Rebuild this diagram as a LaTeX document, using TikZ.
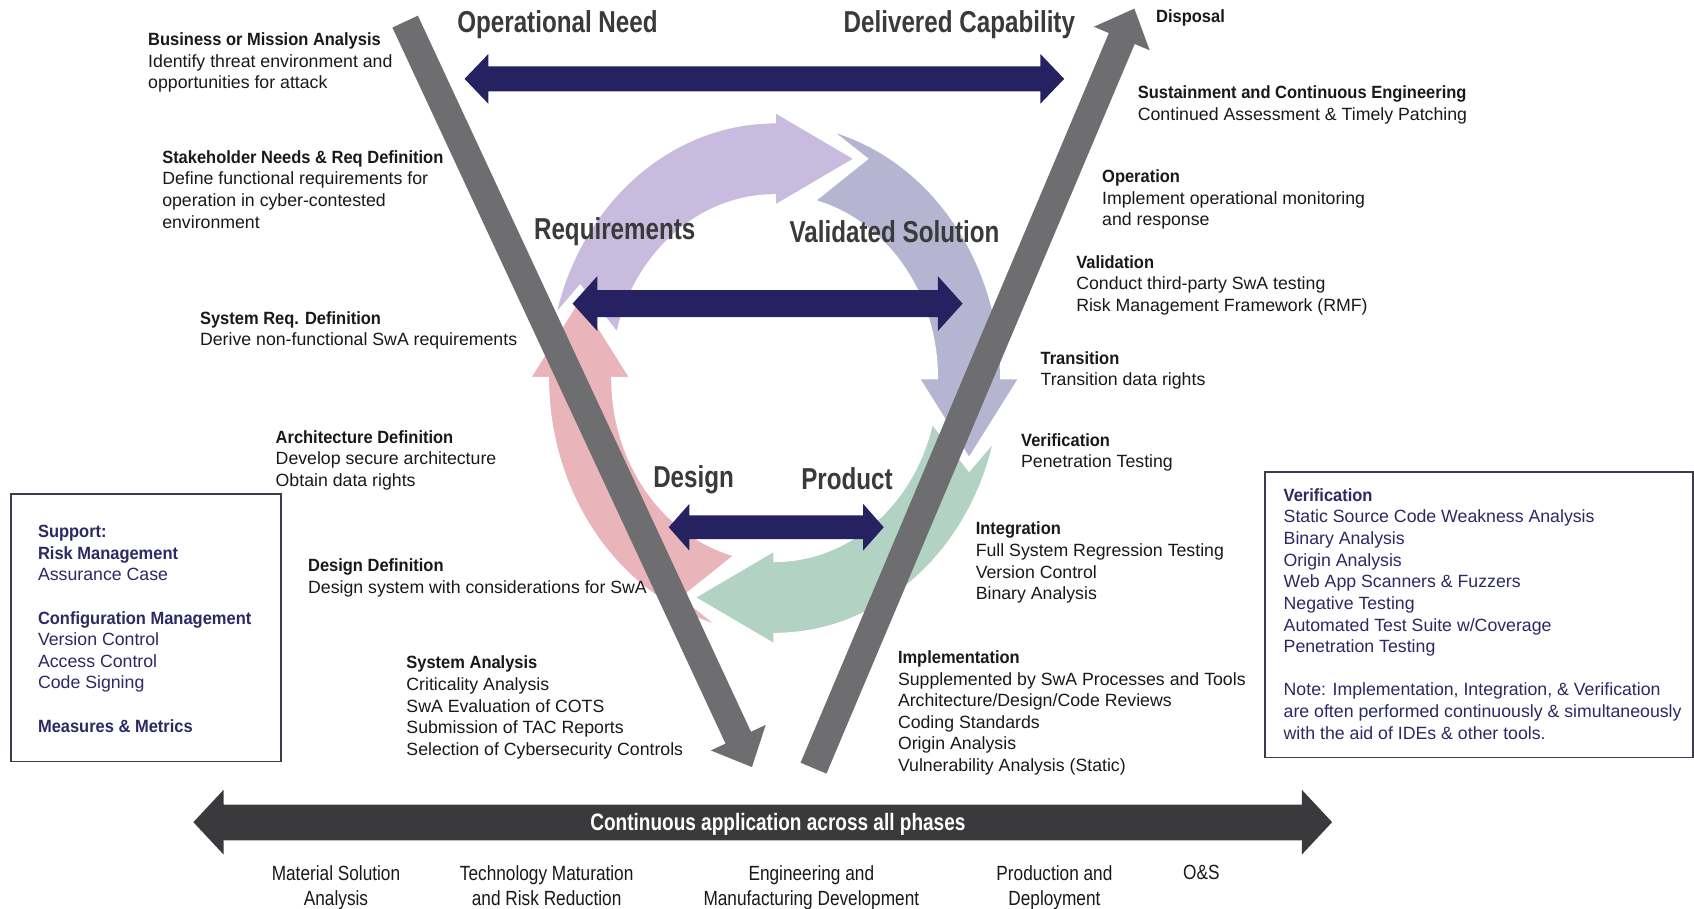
\documentclass[tikz,border=0pt]{standalone}
\usepackage{fontspec}
\setmainfont{Liberation Sans}[BoldFeatures={FakeStretch=0.93}]
\newfontfamily\condf{Liberation Sans}[FakeStretch=0.84]
\newfontfamily\condb{Liberation Sans}[FakeStretch=0.8]
\usetikzlibrary{calc}
\definecolor{navyA}{RGB}{38,34,98}
\definecolor{vgrey}{RGB}{110,110,113}
\definecolor{darkbar}{RGB}{58,58,61}
\definecolor{titlegrey}{RGB}{58,58,58}
\definecolor{purpleC}{RGB}{201,187,221}
\definecolor{lavC}{RGB}{181,181,210}
\definecolor{greenC}{RGB}{178,211,196}
\definecolor{pinkC}{RGB}{233,180,186}
\definecolor{boxtext}{RGB}{44,41,100}
\definecolor{boxline}{RGB}{60,60,75}
\definecolor{bodytext}{RGB}{25,25,25}
\newcommand{\mydblarrow}[6]{%
  \fill[#1] (#2) -- ($(#2)+(#6,-#5)$) -- ($(#2)+(#6,-#4)$) -- ($(#3)+(-#6,-#4)$) -- ($(#3)+(-#6,-#5)$) -- (#3) -- ($(#3)+(-#6,#5)$) -- ($(#3)+(-#6,#4)$) -- ($(#2)+(#6,#4)$) -- ($(#2)+(#6,#5)$) -- cycle;}
\tikzset{
  txt/.style={font=\fontsize{16.4}{20}\selectfont, align=left, inner sep=0pt, text=bodytext, anchor=north west},
  boxtxt/.style={txt, text=boxtext},
  biglabel/.style={font=\condb\bfseries\fontsize{28}{30}\selectfont, text=titlegrey, inner sep=0pt, anchor=base},
  phase/.style={font=\condf\fontsize{19}{23}\selectfont, align=center, inner sep=0pt, anchor=north, text=bodytext},
  ringarrow/.style={draw=white, line width=2.5pt, line join=miter},
  panel/.style={draw=boxline, line width=1.5pt},
}
\begin{document}
\begin{tikzpicture}[x=1pt,y=-1pt]
\useasboundingbox (0,0) rectangle (1568,841);
\fill[white] (0,0) rectangle (1568,841);

% ---- cycle ring
\begin{scope}[shift={(717,350)}]
  \filldraw[ringarrow, fill=purpleC] (194:210 and 237) arc[start angle=194, end angle=270, x radius=210, y radius=237]
     -- (0,-247) -- (75,-203) -- (0,-159) -- (0,-169)
     arc[start angle=270, end angle=194, x radius=150, y radius=169] -- (-180,-85) -- cycle;
  \filldraw[ringarrow, fill=lavC] (284:210 and 237) arc[start angle=284, end angle=360, x radius=210, y radius=237]
     -- (227,0) -- (180,75) -- (133,0) -- (150,0)
     arc[start angle=360, end angle=284, x radius=150, y radius=169] -- (85,-203) -- cycle;
  \filldraw[ringarrow, fill=greenC] (14:210 and 237) arc[start angle=14, end angle=90, x radius=210, y radius=237]
     -- (0,247) -- (-75,203) -- (0,159) -- (0,169)
     arc[start angle=90, end angle=14, x radius=150, y radius=169] -- (180,85) -- cycle;
  \filldraw[ringarrow, fill=pinkC] (104:210 and 237) arc[start angle=104, end angle=180, x radius=210, y radius=237]
     -- (-227,0) -- (-180,-75) -- (-133,0) -- (-150,0)
     arc[start angle=180, end angle=104, x radius=150, y radius=169] -- (-85,203) -- cycle;
\end{scope}

% ---- V arrows
\fill[vgrey] (386.79,14.52) -- (695.14,677.32) -- (708.74,670.99) -- (696,710) -- (657.96,694.61) -- (671.56,688.28) -- (363.21,25.48) -- cycle;
\fill[vgrey] (764.98,716.06) -- (1050.30,40.69) -- (1064.12,46.53) -- (1050,8) -- (1012.54,24.73) -- (1026.35,30.57) -- (741.03,705.94) -- cycle;

% ---- navy double arrows
\coordinate (topL) at (430,73);  \coordinate (topR) at (985,73);
\coordinate (midL) at (530,281); \coordinate (midR) at (891,281);
\coordinate (lowL) at (619,488); \coordinate (lowR) at (818,488);
\coordinate (barL) at (179,761); \coordinate (barR) at (1233,761);
\mydblarrow{navyA}{topL}{topR}{11.5}{23}{22}
\mydblarrow{navyA}{midL}{midR}{12.5}{25.5}{23}
\mydblarrow{navyA}{lowL}{lowR}{11}{21.5}{19}
\mydblarrow{darkbar}{barL}{barR}{16.5}{30}{28}
\draw[gray!55, line width=0.8pt] ($(barL)+(28,-16.5)$) -- ($(barR)+(-28,-16.5)$);
\draw[gray!55, line width=0.8pt] ($(barL)+(28,16.5)$) -- ($(barR)+(-28,16.5)$);

% ---- big labels
\node[biglabel] (opneed) at (516,30) {Operational Need};
\node[biglabel] (delcap) at (888,30) {Delivered Capability};
\node[biglabel] (req) at (569,222) {Requirements};
\node[biglabel] (valsol) at (828,224) {Validated Solution};
\node[biglabel] (design) at (642,451) {Design};
\node[biglabel] (product) at (784,453) {Product};
\node[font=\condb\bfseries\fontsize{22}{24}\selectfont, text=white, inner sep=0pt, anchor=base] (cont) at (720,769) {Continuous application across all phases};

% ---- left side texts
\node[txt] (bma) at (137,30) {\textbf{Business or Mission Analysis}\\Identify threat environment and\\opportunities for attack};
\node[txt] (snr) at (150,139) {\textbf{Stakeholder Needs \& Req Definition}\\Define functional requirements for\\operation in cyber-contested\\environment};
\node[txt] (srd) at (185,288) {\textbf{System Req. Definition}\\Derive non-functional SwA requirements};
\node[txt] (ard) at (255,398) {\textbf{Architecture Definition}\\Develop secure architecture\\Obtain data rights};
\node[txt] (dd) at (285,517) {\textbf{Design Definition}\\Design system with considerations for SwA};
\node[txt] (sa) at (376,607) {\textbf{System Analysis}\\Criticality Analysis\\SwA Evaluation of COTS\\Submission of TAC Reports\\Selection of Cybersecurity Controls};

% ---- right side texts
\node[txt] (disp) at (1070,9) {\textbf{Disposal}};
\node[txt] (sce) at (1053,79) {\textbf{Sustainment and Continuous Engineering}\\Continued Assessment \& Timely Patching};
\node[txt] (oper) at (1020,157) {\textbf{Operation}\\Implement operational monitoring\\and response};
\node[txt] (valid) at (996,236) {\textbf{Validation}\\Conduct third-party SwA testing\\Risk Management Framework (RMF)};
\node[txt] (trans) at (963,325) {\textbf{Transition}\\Transition data rights};
\node[txt] (verif) at (945,401) {\textbf{Verification}\\Penetration Testing};
\node[txt] (integ) at (903,483) {\textbf{Integration}\\Full System Regression Testing\\Version Control\\Binary Analysis};
\node[txt] (impl) at (831,602) {\textbf{Implementation}\\Supplemented by SwA Processes and Tools\\Architecture/Design/Code Reviews\\Coding Standards\\Origin Analysis\\Vulnerability Analysis (Static)};

% ---- boxes
\draw[panel] (10,457) rectangle (260,705);
\node[boxtxt] (support) at (35,486) {\textbf{Support:}\\\textbf{Risk Management}\\Assurance Case\\[20pt]\textbf{Configuration Management}\\Version Control\\Access Control\\Code Signing\\[20pt]\textbf{Measures \& Metrics}};
\draw[panel] (1171,437) rectangle (1567,701);
\node[boxtxt] (verbox) at (1188,452) {\textbf{Verification}\\Static Source Code Weakness Analysis\\Binary Analysis\\Origin Analysis\\Web App Scanners \& Fuzzers\\Negative Testing\\Automated Test Suite w/Coverage\\Penetration Testing\\[20pt]Note: Implementation, Integration, \& Verification\\are often performed continuously \& simultaneously\\with the aid of IDEs \& other tools.};

% ---- phases
\node[phase] (msa) at (311,801) {Material Solution\\Analysis};
\node[phase] (tmrr) at (506,801) {Technology Maturation\\and Risk Reduction};
\node[phase] (emd) at (751,801) {Engineering and\\Manufacturing Development};
\node[phase] (pd) at (976,801) {Production and\\Deployment};
\node[phase] (os) at (1112,801) {O\&S};
\end{tikzpicture}
\end{document}
